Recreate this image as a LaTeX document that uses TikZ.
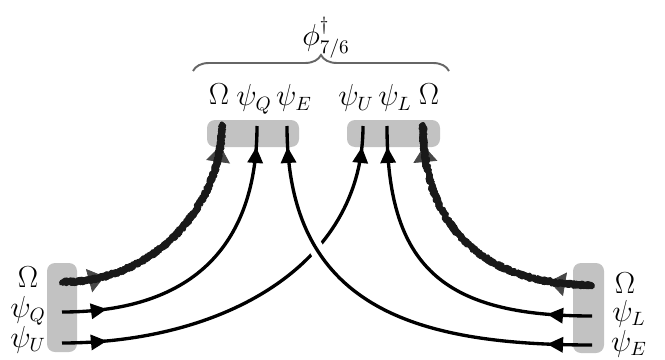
\documentclass[tikz,border=0pt]{standalone}
\usepackage{amsmath}
\usepackage{amssymb}
\usepackage{tikz}
\usetikzlibrary{arrows.meta,decorations.pathreplacing,decorations.pathmorphing,decorations.markings}

\begin{document}
\begin{tikzpicture}[x=0.2mm, y=-0.2mm, font=\fontsize{16}{19}\selectfont]
  \tikzstyle{slot} = [rectangle, fill=black!24, rounded corners=1.6mm, inner sep=0pt]
  \tikzstyle{lbl} = [anchor=base, inner sep=0pt]
  \tikzstyle{fermion} = [line width=1.9pt, postaction={decorate}, decoration={markings, mark=at position 9mm with {\arrow{Triangle[length=3.2mm,width=3mm]}}, mark=at position -4.2mm with {\arrow{Triangle[length=3.2mm,width=3mm]}}}]
  \tikzstyle{scalar} = [black!90, line width=2.6pt, line join=round, line cap=round, decorate, decoration={random steps, segment length=0.8pt, amplitude=1.3pt}]
  \tikzstyle{scalarhead} = [decorate, decoration={markings, mark=at position 8.6mm with {\arrow[black!72]{Triangle[length=3.2mm,width=4.8mm]}}, mark=at position -4.2mm with {\arrow[black!72]{Triangle[length=3.2mm,width=4.8mm]}}}]

  \useasboundingbox (0,0) rectangle (665,360);

  \node[slot, minimum width=18.4mm, minimum height=5.4mm] (topL) at (253,133.5) {};
  \node[slot, minimum width=18.6mm, minimum height=5.4mm] (topR) at (393.5,133.5) {};
  \node[slot, minimum width=6mm, minimum height=17.8mm] (boxL) at (62,307.5) {};
  \node[slot, minimum width=6.2mm, minimum height=18mm] (boxR) at (588.5,308) {};

  \coordinate (omL) at (62,282);
  \coordinate (qL) at (62,312);
  \coordinate (uL) at (62,343);
  \coordinate (omR) at (592,285);
  \coordinate (lR) at (592,316);
  \coordinate (eR) at (592,345);
  \coordinate (omTL) at (222,125);
  \coordinate (qT) at (257,126);
  \coordinate (eT) at (287,126);
  \coordinate (uT) at (363,126);
  \coordinate (lT) at (387,126);
  \coordinate (omTR) at (423,125);

  \path[scalarhead] (omL) .. controls +(98,0) and +(0,75) .. (omTL);
  \path[scalarhead] (omR) .. controls +(-110,0) and +(0,100) .. (omTR);
  \foreach \k in {1,2,3,4} {
    \draw[scalar] (omL) .. controls +(98,0) and +(0,75) .. (omTL);
    \draw[scalar] (omR) .. controls +(-110,0) and +(0,100) .. (omTR);
  }

  \draw[fermion] (qL) .. controls +(135,0) and +(0,115) .. (qT);
  \draw[fermion] (uL) .. controls +(160,0) and +(0,140) .. (uT);
  \draw[fermion, preaction={draw=white, line width=3mm, dash pattern=on 0pt off 5.5cm on 1cm off 20cm}] (eR) .. controls +(-180,0) and +(0,180) .. (eT);
  \draw[fermion] (lR) .. controls +(-150,0) and +(0,140) .. (lT);

  \node[lbl] (omLl) at (28,287) {$\Omega$};
  \node[lbl] (qLl) at (28,317) {$\psi_Q$};
  \node[lbl] (uLl) at (28,347) {$\psi_U$};
  \node[lbl] (omRl) at (625,293) {$\Omega$};
  \node[lbl] (lRl) at (629,321) {$\psi_L$};
  \node[lbl] (eRl) at (629,351) {$\psi_E$};

  \node[lbl] (omTLl) at (219,105) {$\Omega$};
  \node[lbl] (qTl) at (254,106) {$\psi_Q$};
  \node[lbl] (eTl) at (294,106) {$\psi_E$};
  \node[lbl] (uTl) at (356,106) {$\psi_U$};
  \node[lbl] (lTl) at (395,106) {$\psi_L$};
  \node[lbl] (omTRl) at (429,105) {$\Omega$};

  \coordinate (brL) at (193,71);
  \coordinate (brR) at (449,71);
  \draw[black!60, line width=1.1pt, decorate, decoration={brace, amplitude=3.2mm}] (brL) -- (brR);
  \node (phi) at (326,38) {$\phi^{\dagger}_{7/6}$};
\end{tikzpicture}
\end{document}
